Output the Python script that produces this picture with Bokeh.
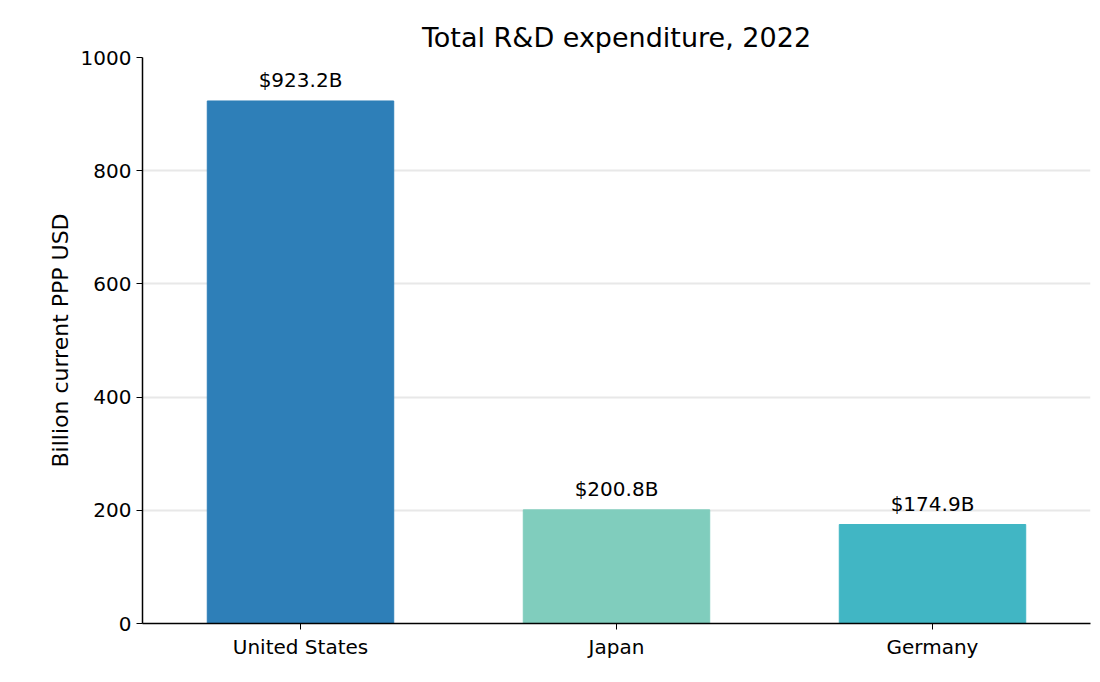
from bokeh.plotting import figure
from bokeh.models import ColumnDataSource, Range1d, FixedTicker
from bokeh.core.properties import value
from bokeh.embed import file_html
from bokeh.resources import INLINE

countries = ["United States", "Japan", "Germany"]
spend = [923.2, 200.8, 174.9]
colors = ["#2e7fb8", "#80cdbd", "#41b6c4"]
labels = ["$%.1fB" % v for v in spend]

src = ColumnDataSource(dict(x=countries, top=spend, color=colors, label=labels))
F = "DejaVu Sans"
p = figure(x_range=countries, y_range=Range1d(0, 1000), width=1092, height=666,
           output_backend="svg", toolbar_location=None,
           min_border_left=142, min_border_right=2, min_border_top=57, min_border_bottom=43)
p.x_range.range_padding = 0
p.vbar(x="x", top="top", width=0.59, color="color", source=src)
p.text(x="x", y="top", text="label", source=src, text_align="center", text_baseline="bottom",
       y_offset=-9, text_font=value(F), text_font_size="20px", text_color="black")
p.title.text = "Total R&D expenditure, 2022"
p.title.align = "center"
p.title.text_font = F
p.title.text_font_size = "27px"
p.title.text_font_style = "normal"
p.title.text_color = "black"
p.outline_line_color = None
p.xgrid.grid_line_color = None
p.ygrid.grid_line_color = "#e8e8e8"
p.ygrid.grid_line_width = 2
p.yaxis.ticker = FixedTicker(ticks=[0, 200, 400, 600, 800, 1000])
p.yaxis.axis_label = "Billion current PPP USD"
for ax in (p.xaxis, p.yaxis):
    ax.major_label_text_font = F
    ax.major_label_text_font_size = "20px"
    ax.major_label_text_color = "black"
    ax.axis_label_text_font = F
    ax.axis_label_text_font_size = "22px"
    ax.axis_label_text_font_style = "normal"
    ax.axis_label_text_color = "black"
    ax.minor_tick_line_color = None
    ax.axis_line_color = "black"
    ax.axis_line_width = 1.5
    ax.major_tick_line_color = "black"
    ax.major_tick_out = 6
    ax.major_tick_in = 0

open("out.html", "w").write(file_html(p, INLINE))
